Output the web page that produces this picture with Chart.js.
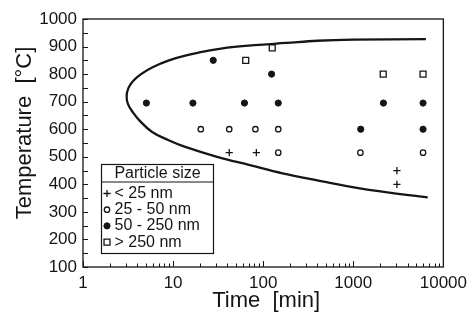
<!DOCTYPE html>
<html>
<head>
<meta charset="utf-8">
<script src="https://cdn.jsdelivr.net/npm/chart.js@4.4.1/dist/chart.umd.min.js"></script>
<style>
  html, body { margin: 0; padding: 0; background: #fff; }
  #wrap { width: 473px; height: 320px; }
</style>
</head>
<body>
<div id="wrap"><canvas id="tttChart"></canvas></div>
<script>
// time [min], temperature [°C]
const sizeLabels = ['< 25 nm', '25 - 50 nm', '50 - 250 nm', '> 250 nm'];
const under25 = [[42, 515], [84, 515], [3050, 450], [3050, 400]];
const from25to50 = [[20.3, 600], [42, 600], [82, 600], [147, 600], [147, 515], [1200, 515], [5950, 515]];
const from50to250 = [[27.9, 850], [124, 800], [5.05, 695], [16.6, 695], [62, 695], [147, 695],
  [2160, 695], [5950, 695], [1210, 600], [5950, 600]];
const over250 = [[64, 850], [126, 895], [2150, 800], [5950, 800]];
// boundary curve, upper branch right to left, then lower branch
const boundary = [[6400, 927], [1000, 925], [400, 921], [180, 913], [80, 905], [40, 896], [24, 884],
  [14, 868], [9, 850], [6, 826], [4.4, 800], [3.6, 775], [3.2, 750], [3.05, 722], [3.15, 692],
  [3.6, 660], [4.2, 633], [5.8, 591], [8.8, 561], [13.4, 537], [30.8, 500], [71, 470], [164, 440],
  [377, 416], [944, 391], [2500, 370], [6700, 353]];
const xTickLabels = [1, 10, 100, 1000, 10000];

const ink = '#151515';
const font = 'Liberation Sans, Arial, sans-serif';

const pts = arr => arr.map(p => ({ x: p[0], y: p[1] }));

const markers = [
  { style: 'cross', radius: 3.6, fill: ink, width: 1.3 },
  { style: 'circle', radius: 2.7, fill: '#fff', width: 1.3 },
  { style: 'circle', radius: 3.1, fill: ink, width: 1 },
  { style: 'rect', radius: 4.2, fill: '#fff', width: 1.3 }
];

const frameAndExtras = {
  id: 'frameAndExtras',
  afterDraw(chart) {
    const { ctx, chartArea: a, scales: { x, y } } = chart;
    ctx.save();
    ctx.strokeStyle = ink;
    ctx.lineWidth = 1.3;
    ctx.strokeRect(a.left, a.top, a.right - a.left, a.bottom - a.top);

    // inward ticks
    ctx.lineWidth = 1;
    ctx.beginPath();
    for (let v = y.min; v <= y.max; v += 50) {
      const py = Math.round(y.getPixelForValue(v)) + 0.5;
      ctx.moveTo(a.left, py);
      ctx.lineTo(a.left + 5, py);
    }
    for (let d = 1; d < x.max; d *= 10) {
      for (let k = 1; k <= 10; k++) {
        const px = Math.round(x.getPixelForValue(d * k)) + 0.5;
        const len = (k === 1 || k === 10) ? 6 : 3.5;
        ctx.moveTo(px, a.bottom);
        ctx.lineTo(px, a.bottom - len);
      }
    }
    ctx.stroke();

    // axis titles
    ctx.fillStyle = ink;
    ctx.textAlign = 'center';
    ctx.textBaseline = 'middle';
    ctx.font = '22px ' + font;
    ctx.fillText('Time  [min]', (a.left + a.right) / 2 + 3, 301);
    ctx.save();
    ctx.translate(25, 133);
    ctx.rotate(-Math.PI / 2);
    ctx.fillText('Temperature  [°C]', 0, 0);
    ctx.restore();

    // legend box
    const bx = 101.5, by = 164.5, bw = 112, bh = 89;
    ctx.fillStyle = '#fff';
    ctx.fillRect(bx, by, bw, bh);
    ctx.strokeStyle = ink;
    ctx.lineWidth = 1.2;
    ctx.strokeRect(bx, by, bw, bh);
    ctx.beginPath();
    ctx.moveTo(bx, by + 17.5);
    ctx.lineTo(bx + bw, by + 17.5);
    ctx.stroke();
    ctx.fillStyle = ink;
    ctx.font = '16px ' + font;
    ctx.textAlign = 'center';
    ctx.fillText('Particle size', bx + bw / 2, by + 9.5);
    ctx.textAlign = 'left';
    chart.data.datasets.slice(0, 4).forEach((ds, i) => {
      const ly = by + 29 + i * 16.2;
      ctx.fillStyle = ds.backgroundColor;
      ctx.strokeStyle = ink;
      ctx.lineWidth = ds.borderWidth;
      Chart.helpers.drawPoint(ctx, {
        pointStyle: ds.pointStyle, radius: ds.pointRadius, borderWidth: ds.borderWidth, rotation: 0
      }, bx + 5.5, ly);
      ctx.fillStyle = ink;
      ctx.fillText(ds.label, bx + 13, ly);
    });
    ctx.restore();
  }
};

const groups = [under25, from25to50, from50to250, over250];

const datasets = groups.map((g, i) => ({
  label: sizeLabels[i],
  data: pts(g),
  pointStyle: markers[i].style,
  pointRadius: markers[i].radius,
  pointHoverRadius: markers[i].radius,
  backgroundColor: markers[i].fill,
  borderColor: ink,
  borderWidth: markers[i].width,
  showLine: false
}));

datasets.push({
  label: 'boundary',
  data: pts(boundary),
  showLine: true,
  borderColor: ink,
  borderWidth: 2.3,
  pointRadius: 0,
  tension: 0.4,
  fill: false
});

new Chart(document.getElementById('tttChart'), {
  type: 'scatter',
  data: { datasets },
  options: {
    responsive: true,
    maintainAspectRatio: false,
    animation: false,
    layout: { padding: { left: 0, top: 19, right: 22, bottom: 0 } },
    plugins: { legend: { display: false }, tooltip: { enabled: false } },
    scales: {
      x: {
        type: 'logarithmic',
        min: 1,
        max: 10000,
        grid: { display: false, drawTicks: false },
        border: { display: false },
        ticks: {
          autoSkip: false,
          maxRotation: 0,
          padding: 6,
          color: ink,
          font: { family: font, size: 17 },
          callback: v => xTickLabels.includes(v) ? String(v) : ''
        },
        afterFit: s => { s.height = 53; }
      },
      y: {
        min: 100,
        max: 1000,
        grid: { display: false, drawTicks: false },
        border: { display: false },
        ticks: {
          stepSize: 100,
          padding: 6,
          color: ink,
          font: { family: font, size: 17 },
          callback: v => String(v)
        },
        afterFit: s => { s.width = 83; }
      }
    }
  },
  plugins: [frameAndExtras]
});
</script>
</body>
</html>
